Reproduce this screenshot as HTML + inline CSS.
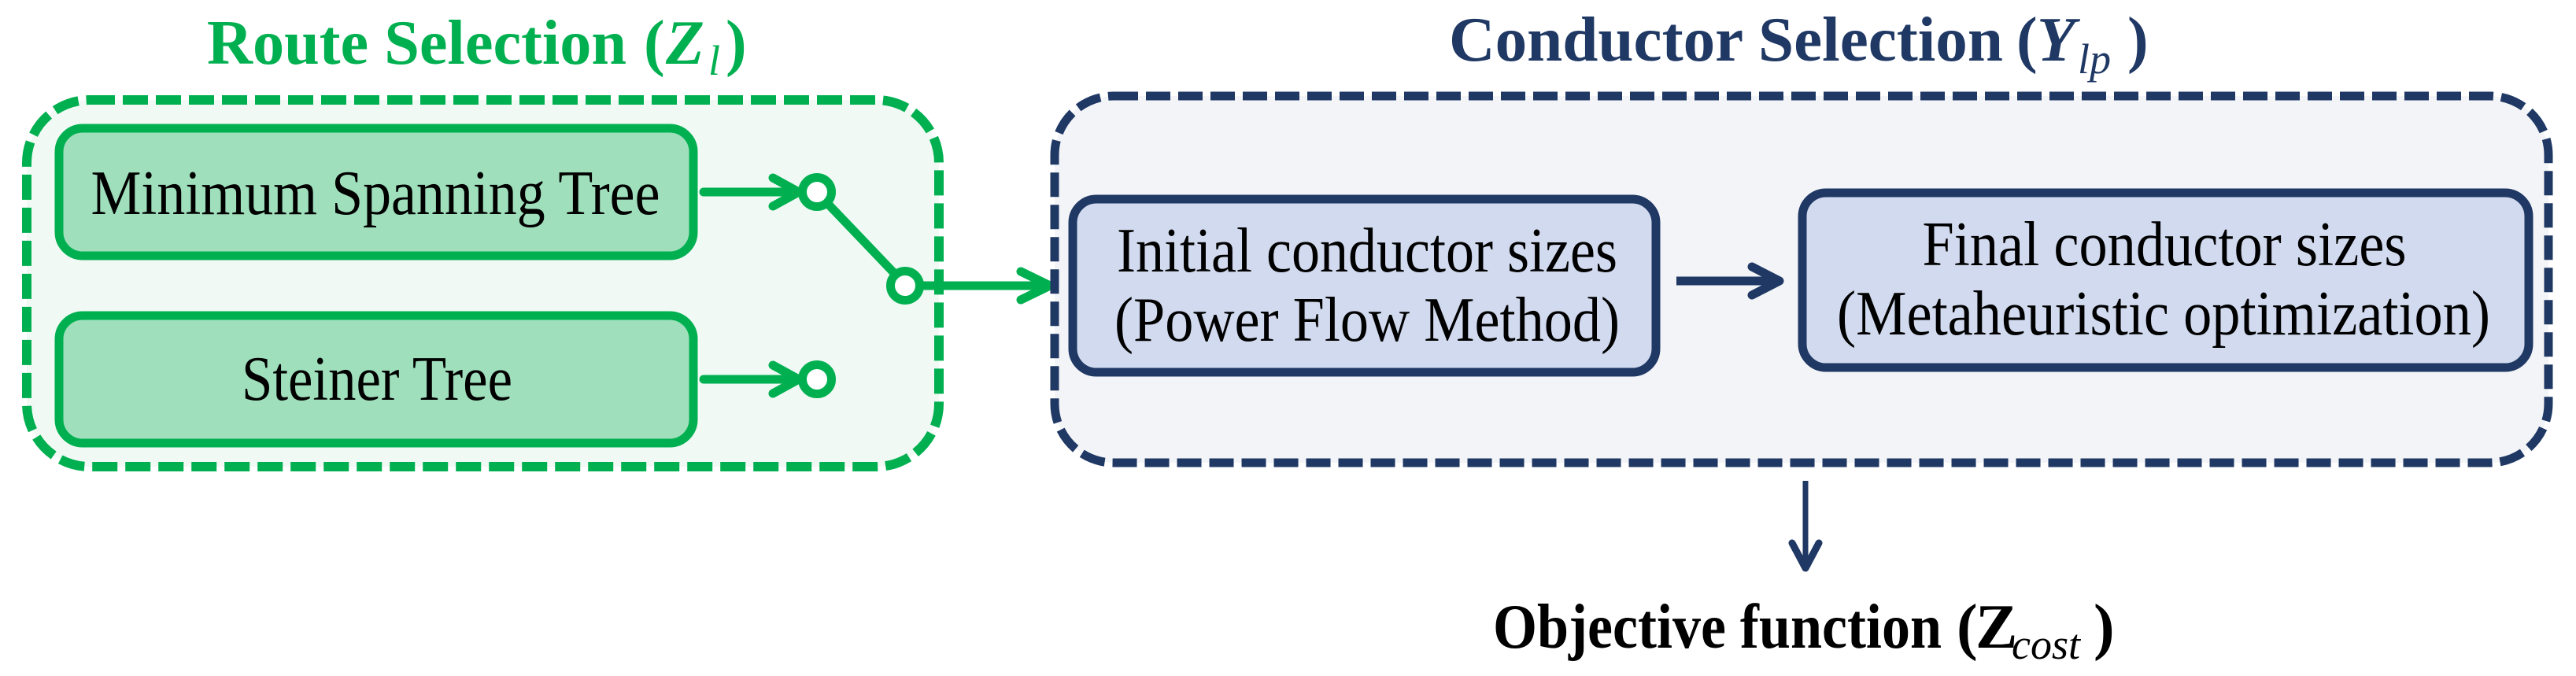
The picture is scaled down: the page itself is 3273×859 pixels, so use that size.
<!DOCTYPE html>
<html><head><meta charset="utf-8"><style>
html,body{margin:0;padding:0;background:#fff;}
svg{display:block;}
</style></head><body>
<svg width="3273" height="859" viewBox="0 0 3273 859" xmlns="http://www.w3.org/2000/svg" font-family="'Liberation Serif', serif">
<!-- Route selection -->
<rect x="34" y="127" width="1159" height="466" rx="80" fill="#F0F9F4" stroke="#00B050" stroke-width="12" stroke-dasharray="32 10"/>
<rect x="75" y="163" width="806" height="162" rx="30" fill="#9FDFBC" stroke="#00B050" stroke-width="11"/>
<rect x="75" y="401" width="806" height="162" rx="30" fill="#9FDFBC" stroke="#00B050" stroke-width="11"/>
<text x="477" y="272" font-size="80" text-anchor="middle" textLength="723" lengthAdjust="spacingAndGlyphs">Minimum Spanning Tree</text>
<text x="479" y="508" font-size="80" text-anchor="middle" textLength="344" lengthAdjust="spacingAndGlyphs">Steiner Tree</text>
<g stroke="#00B050" stroke-width="11" fill="none" stroke-linecap="round" stroke-linejoin="round">
<line x1="894" y1="244" x2="1015" y2="244"/>
<polyline points="982,226 1015,244 982,262"/>
<line x1="894" y1="482" x2="1015" y2="482"/>
<polyline points="982,464 1015,482 982,500"/>
<line x1="1050" y1="257" x2="1137" y2="348"/>
<line x1="1168" y1="363" x2="1334" y2="363" stroke-linecap="butt"/>
<polyline points="1297,345 1334,363 1297,381"/>
</g>
<g fill="#fff" stroke="#00B050" stroke-width="11">
<circle cx="1038" cy="244" r="18.5"/>
<circle cx="1038" cy="482" r="18.5"/>
<circle cx="1150" cy="363" r="18.5"/>
</g>
<text y="81" font-size="80" font-weight="bold" fill="#00B050"><tspan x="263" textLength="533" lengthAdjust="spacingAndGlyphs">Route Selection</tspan><tspan x="818">(</tspan><tspan font-style="italic" x="846">Z</tspan><tspan font-style="italic" font-weight="normal" font-size="54" dy="14" x="900">l</tspan><tspan dy="-14" x="922">)</tspan></text>
<!-- Conductor selection -->
<rect x="1340" y="122" width="1898" height="466" rx="75" fill="#F3F4F7" stroke="#1F3864" stroke-width="11" stroke-dasharray="31 10"/>
<rect x="1363" y="253" width="741" height="220" rx="30" fill="#D1DAEE" stroke="#1F3864" stroke-width="11"/>
<rect x="2290" y="245" width="923" height="222" rx="30" fill="#D1DAEE" stroke="#1F3864" stroke-width="11"/>
<text x="1737" y="345" font-size="80" text-anchor="middle" textLength="636" lengthAdjust="spacingAndGlyphs">Initial conductor sizes</text>
<text x="1737" y="433" font-size="80" text-anchor="middle" textLength="642" lengthAdjust="spacingAndGlyphs">(Power Flow Method)</text>
<text x="2750" y="337" font-size="80" text-anchor="middle" textLength="615" lengthAdjust="spacingAndGlyphs">Final conductor sizes</text>
<text x="2749" y="425" font-size="80" text-anchor="middle" textLength="830" lengthAdjust="spacingAndGlyphs">(Metaheuristic optimization)</text>
<g stroke="#1F3864" stroke-width="11" fill="none" stroke-linecap="round" stroke-linejoin="round">
<line x1="2130" y1="357" x2="2261" y2="357" stroke-linecap="butt"/>
<polyline points="2226,339 2261,357 2226,375"/>
<line x1="2294" y1="611" x2="2294" y2="722" stroke-width="7" stroke-linecap="butt"/>
<polyline points="2277,690 2294,722 2311,690" stroke-width="9"/>
</g>
<text y="77" font-size="80" font-weight="bold" fill="#1F3864"><tspan x="1841" textLength="704" lengthAdjust="spacingAndGlyphs">Conductor Selection</tspan><tspan x="2562">(</tspan><tspan font-style="italic" x="2588">Y</tspan><tspan font-style="italic" font-weight="normal" font-size="54" dy="16" x="2640">lp</tspan><tspan dy="-16" x="2703">)</tspan></text>
<text y="823" font-size="80" font-weight="bold" fill="#000"><tspan x="1897" textLength="570" lengthAdjust="spacingAndGlyphs">Objective function</tspan><tspan x="2486">(</tspan><tspan x="2510">Z</tspan><tspan font-style="italic" font-weight="normal" font-size="54" dy="14" x="2556">cost</tspan><tspan dy="-14" x="2660">)</tspan></text>
</svg>
</body></html>
